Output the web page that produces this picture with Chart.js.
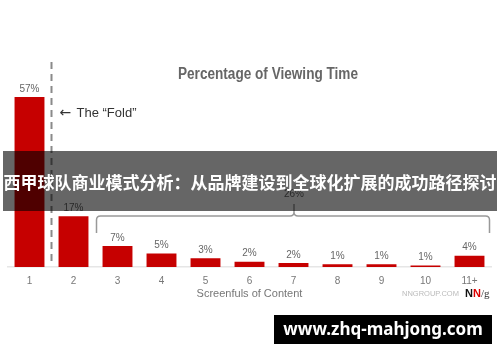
<!DOCTYPE html>
<html>
<head>
<meta charset="utf-8">
<script src="https://cdn.jsdelivr.net/npm/chart.js@4.4.1/dist/chart.umd.min.js"></script>
<style>
  html, body { margin: 0; padding: 0; background: #fff; }
  #wrap { width: 500px; height: 362px; }
</style>
</head>
<body>
<div id="wrap"><canvas id="viewChart" width="500" height="362"></canvas></div>
<script>
// values (bar heights) and the printed labels
const screenfuls = ['1', '2', '3', '4', '5', '6', '7', '8', '9', '10', '11+'];
const viewingTime = [57, 17, 7, 4.5, 2.9, 1.8, 1.3, 0.9, 0.9, 0.5, 3.8];
const pctLabels = ['57%', '17%', '7%', '5%', '3%', '2%', '2%', '1%', '1%', '1%', '4%'];
const belowFoldLabel = '26%';
const chartTitle = 'Percentage of Viewing Time';
const axisTitle = 'Screenfuls of Content';
const bannerText = '西甲球队商业模式分析：从品牌建设到全球化扩展的成功路径探讨';
const siteText = 'www.zhq-mahjong.com';

const overlayPlugin = {
    id: 'overlay',
    afterDatasetsDraw(chart) {
        const ctx = chart.ctx;
        const meta = chart.getDatasetMeta(0);
        const x = chart.scales.x;
        const y = chart.scales.y;
        const base = y.getPixelForValue(0);

        ctx.save();
        // percent labels above bars
        ctx.fillStyle = '#666';
        ctx.font = '10px "Liberation Sans", Arial, sans-serif';
        ctx.textAlign = 'center';
        ctx.textBaseline = 'middle';
        meta.data.forEach((bar, i) => {
            ctx.fillText(pctLabels[i], bar.x, bar.y - 8);
        });

        // axis title
        ctx.fillStyle = '#777';
        ctx.font = '11px "Liberation Sans", Arial, sans-serif';
        ctx.fillText(axisTitle, (chart.chartArea.left + chart.chartArea.right) / 2, 294);

        // the fold line between screen 1 and 2
        const foldX = (x.getPixelForValue(0) + x.getPixelForValue(1)) / 2;
        ctx.strokeStyle = '#8a8a8a';
        ctx.lineWidth = 2;
        ctx.setLineDash([7, 5]);
        ctx.beginPath();
        ctx.moveTo(foldX, 62);
        ctx.lineTo(foldX, base - 1);
        ctx.stroke();
        ctx.setLineDash([]);

        ctx.fillStyle = '#333';
        ctx.textAlign = 'left';
        ctx.font = '14px "DejaVu Sans", sans-serif';
        ctx.fillText('\u2190', foldX + 8, 113);
        ctx.font = '13px "Liberation Sans", Arial, sans-serif';
        ctx.fillText('The \u201cFold\u201d', foldX + 25, 113);

        // chart title, squeezed to look condensed
        ctx.fillStyle = '#666';
        ctx.font = 'bold 16px "Liberation Sans", Arial, sans-serif';
        ctx.textAlign = 'center';
        const tw = ctx.measureText(chartTitle).width;
        ctx.save();
        ctx.translate(268, 75);
        ctx.scale(180 / tw, 1);
        ctx.fillText(chartTitle, 0, 0);
        ctx.restore();

        // bracket over screens 3..11
        const bl = x.getPixelForValue(2) - 21;
        const br = x.getPixelForValue(10) + 20;
        const top = 216;
        const mid = 294;
        ctx.strokeStyle = '#999';
        ctx.lineWidth = 1.5;
        ctx.beginPath();
        ctx.moveTo(bl, 233);
        ctx.lineTo(bl, top + 4);
        ctx.quadraticCurveTo(bl, top, bl + 4, top);
        ctx.lineTo(mid - 4, top);
        ctx.quadraticCurveTo(mid, top, mid, top - 4);
        ctx.lineTo(mid, top - 12);
        ctx.moveTo(mid, top - 4);
        ctx.quadraticCurveTo(mid, top, mid + 4, top);
        ctx.lineTo(br - 4, top);
        ctx.quadraticCurveTo(br, top, br, top + 4);
        ctx.lineTo(br, 233);
        ctx.stroke();
        ctx.fillStyle = '#666';
        ctx.font = '10px "Liberation Sans", Arial, sans-serif';
        ctx.fillText(belowFoldLabel, mid, 194);

        // source
        ctx.fillStyle = '#bbb';
        ctx.font = '7.5px "Liberation Sans", Arial, sans-serif';
        ctx.textAlign = 'left';
        ctx.fillText('NNGROUP.COM', 402, 294);
        ctx.font = 'bold 11px "Liberation Sans", Arial, sans-serif';
        ctx.fillStyle = '#111';
        ctx.fillText('N', 465, 294);
        ctx.fillStyle = '#d00';
        ctx.fillText('N', 473, 294);
        ctx.fillStyle = '#333';
        ctx.font = '11px "Liberation Serif", serif';
        ctx.fillText('/g', 481, 294);

        // banner
        ctx.fillStyle = 'rgba(0,0,0,0.6)';
        ctx.fillRect(3, 151, 494, 60);
        ctx.fillStyle = '#fff';
        ctx.font = 'bold 17px "Noto Sans CJK SC", sans-serif';
        ctx.textAlign = 'center';
        ctx.fillText(bannerText, 250, 183);

        // site box
        ctx.fillStyle = '#000';
        ctx.fillRect(274, 315, 218, 29);
        ctx.fillStyle = '#fff';
        ctx.font = 'bold 17px "Noto Sans", sans-serif';
        ctx.fillText(siteText, 383, 330);
        ctx.restore();
    }
};

const viewChart = new Chart(document.getElementById('viewChart'), {
    type: 'bar',
    data: {
        labels: screenfuls,
        datasets: [{
            data: viewingTime,
            backgroundColor: '#c60000',
            barPercentage: 0.68,
            categoryPercentage: 1
        }]
    },
    options: {
        responsive: false,
        animation: false,
        devicePixelRatio: 1,
        layout: {
            padding: { left: 7.5, right: 8.5, top: 88, bottom: 67 }
        },
        plugins: {
            legend: { display: false },
            tooltip: { enabled: false }
        },
        scales: {
            x: {
                grid: { display: false, drawTicks: false },
                border: { color: '#e6e6e6', width: 1.5 },
                ticks: {
                    color: '#777',
                    font: { size: 10, family: '"Liberation Sans", Arial, sans-serif' },
                    padding: 8,
                    maxRotation: 0
                }
            },
            y: {
                display: false,
                min: 0,
                max: 60
            }
        }
    },
    plugins: [overlayPlugin]
});
</script>
</body>
</html>
